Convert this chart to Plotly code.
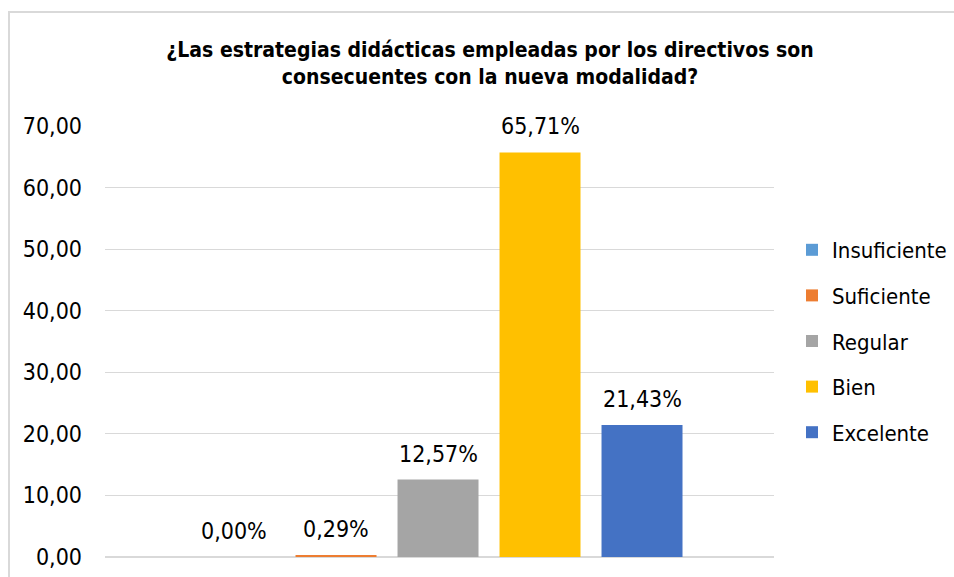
import plotly.graph_objects as go

categories = ["Insuficiente", "Suficiente", "Regular", "Bien", "Excelente"]
values = [0.00, 0.29, 12.57, 65.71, 21.43]
colors = ["#5B9BD5", "#ED7D31", "#A5A5A5", "#FFC000", "#4472C4"]
positions = [0, 1, 2, 3, 4]
y_ticks = [0, 10, 20, 30, 40, 50, 60, 70]
title_text = "¿Las estrategias didácticas empleadas por los directivos son<br>consecuentes con la nueva modalidad?"

FONT = "DejaVu Sans Condensed, Liberation Sans Narrow, Arial Narrow, sans-serif"

fig = go.Figure()
for i, (cat, val, col) in enumerate(zip(categories, values, colors)):
    fig.add_trace(go.Bar(
        x=[positions[i]], y=[val], name=cat, marker=dict(color=col, line=dict(width=0)),
        width=0.794, legendgroup=cat, hoverinfo="skip",
    ))
    fig.add_annotation(
        x=positions[i], y=val, xref="x", yref="y",
        text=f"{val:.2f}".replace(".", ",") + "%",
        showarrow=False, yanchor="middle", yshift=26,
        font=dict(family=FONT, size=23, color="#000000"),
    )

fig.update_layout(
    width=954, height=577,
    margin=dict(l=105, r=180, t=126, b=20, autoexpand=False),
    paper_bgcolor="white", plot_bgcolor="white",
    barmode="overlay",
    separators=",.",
    font=dict(family=FONT, size=23, color="#000000"),
    title=dict(
        text="<b>" + title_text + "</b>",
        x=490 / 954, xanchor="center", y=1 - 57 / 577, yanchor="middle",
        font=dict(family=FONT, size=21, color="#000000"),
    ),
    showlegend=True,
    legend=dict(
        x=(792 - 105) / 669, xanchor="left", y=1 - (229 - 126) / 431, yanchor="top",
        font=dict(family=FONT, size=22, color="#000000"),
        tracegroupgap=14, itemclick=False, bgcolor="rgba(0,0,0,0)",
    ),
    xaxis=dict(range=[-1.265, 5.294], showticklabels=False, showgrid=False,
               zeroline=False, showline=False, ticks=""),
    yaxis=dict(range=[0, 70], tickvals=y_ticks, tickformat=".2f",
               showgrid=True, gridcolor="#D9D9D9", gridwidth=1,
               zeroline=True, zerolinecolor="#D9D9D9", zerolinewidth=2,
               showline=False, ticks="", ticklabelstandoff=22,
               tickfont=dict(family=FONT, size=23, color="#000000")),
)

# outer chart border (light gray), running off the right and bottom edges
fig.add_shape(type="rect", xref="paper", yref="paper",
              x0=(9 - 105) / 669, x1=(980 - 105) / 669,
              y0=-0.2, y1=1 + (126 - 12) / 431,
              line=dict(color="#D9D9D9", width=2), fillcolor="rgba(0,0,0,0)", layer="below")

fig.write_html("out.html")
